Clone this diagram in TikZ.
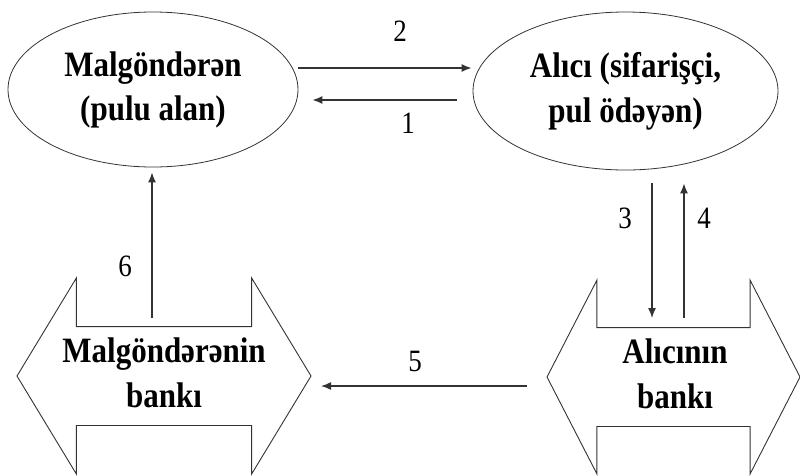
\documentclass[tikz,border=0pt]{standalone}
\usepackage{fontspec}
\usepackage{graphicx}
\setmainfont{Liberation Serif}
\usetikzlibrary{shapes.geometric,shapes.arrows,arrows.meta}

% slightly tall lettering
\newcommand{\tallbox}[1]{\scalebox{1}[1.15]{\begin{tabular}{@{}c@{}}#1\end{tabular}}}

\tikzset{
  party/.style={ellipse, draw=black!80, line width=0.8pt, inner sep=0pt,
    font=\fontsize{31}{39}\selectfont\bfseries},
  bank/.style={double arrow, draw=black!80, line width=0.9pt, inner xsep=0pt, inner ysep=49pt, outer sep=0pt},
  banktext/.style={font=\fontsize{31}{39}\selectfont\bfseries},
  flow/.style={->, draw=black!80, line width=1.4pt},
  num/.style={font=\fontsize{27}{30}\selectfont},
}

\begin{document}
\begin{tikzpicture}[x=1pt, y=-1pt, >={Latex[length=10pt,width=8pt]}]
  \useasboundingbox (0,0) rectangle (800,475);
  % the two sides of the deal
  \node[party, minimum width=290pt, minimum height=155pt] (sell) at (153,89.5) {\tallbox{Malgöndərən\\(pulu alan)}};
  \node[party, minimum width=305pt, minimum height=158pt] (buy) at (625.5,91) {\tallbox{Alıcı (sifarişçi,\\pul ödəyən)}};
  % their banks
  \node[bank, minimum height=294pt, double arrow head extend=48.5pt, double arrow tip angle=117.6] (sbank) at (164,376) {};
  \node[bank, minimum height=253pt, double arrow head extend=47.5pt, double arrow tip angle=125.5] (bbank) at (673.5,377) {};
  \node[banktext] (sbanktxt) at (164,376) {\tallbox{Malgöndərənin\\bankı}};
  \node[banktext] (bbanktxt) at (675,377) {\tallbox{Alıcının\\bankı}};
  % flows
  \draw[flow] ([yshift=21.5pt]sell.east) -- ([xshift=-1pt,yshift=23pt]buy.west);
  \draw[flow] ([xshift=-16pt,yshift=-9pt]buy.west) -- ([xshift=14pt,yshift=-10.5pt]sell.east);
  \draw[flow] ([xshift=26.5pt,yshift=-13pt]buy.south) -- ([xshift=-21.5pt,yshift=59pt]bbank.center);
  \draw[flow] ([xshift=10.5pt,yshift=59pt]bbank.center) -- ([xshift=58.5pt,yshift=-13pt]buy.south);
  \draw[flow] ([xshift=-146.5pt,yshift=-9pt]bbank.center) -- ([xshift=157pt,yshift=-10pt]sbank.center);
  \draw[flow] ([xshift=-12pt,yshift=58pt]sbank.center) -- ([xshift=-1pt,yshift=-5pt]sell.south);
  % step numbers
  \node[num] (n1) at (408,127) {\tallbox{1}};
  \node[num] (n2) at (400,35) {\tallbox{2}};
  \node[num] (n3) at (625,222) {\tallbox{3}};
  \node[num] (n4) at (704,222) {\tallbox{4}};
  \node[num] (n5) at (415,365) {\tallbox{5}};
  \node[num] (n6) at (125,270) {\tallbox{6}};
\end{tikzpicture}
\end{document}
